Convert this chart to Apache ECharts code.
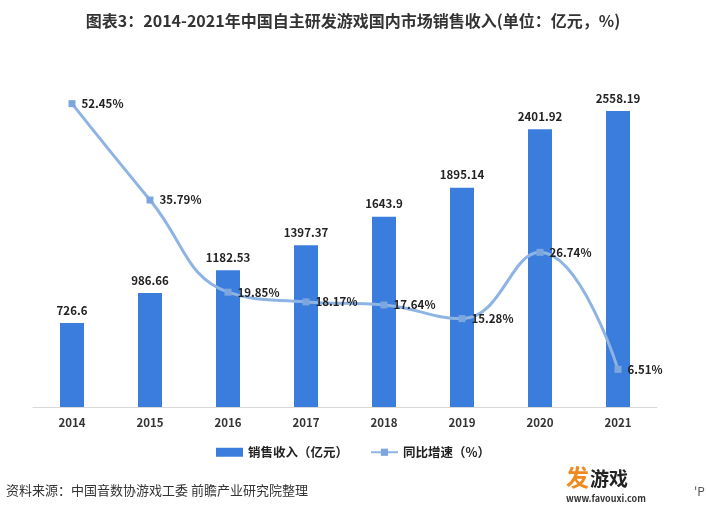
<!DOCTYPE html>
<html><head><meta charset="utf-8">
<script src="https://cdn.jsdelivr.net/npm/echarts@6/dist/echarts.min.js"></script>
<style>html,body{margin:0;padding:0;background:#fff}#c{width:706px;height:513px}</style>
</head><body><div id="c"></div>
<script>
var years = ['2014','2015','2016','2017','2018','2019','2020','2021'];
var revenue = [726.6, 986.66, 1182.53, 1397.37, 1643.9, 1895.14, 2401.92, 2558.19];
var growth = [52.45, 35.79, 19.85, 18.17, 17.64, 15.28, 26.74, 6.51];
var revenueLabels = ['726.6','986.66','1182.53','1397.37','1643.9','1895.14','2401.92','2558.19'];
var growthLabels = ['52.45%','35.79%','19.85%','18.17%','17.64%','15.28%','26.74%','6.51%'];

var chart = echarts.init(document.getElementById('c'));
var font = '"Noto Sans CJK SC", "Liberation Sans", sans-serif';
chart.setOption({
  backgroundColor: '#fff',
  animation: false,
  title: {
    text: '图表3：2014-2021年中国自主研发游戏国内市场销售收入(单位：亿元，%)',
    left: 'center', top: 8,
    textStyle: {fontSize: 16, fontWeight: 'bold', color: '#333', fontFamily: font}
  },
  legend: {
    top: 441, left: 'center', itemGap: 22, itemWidth: 27, itemHeight: 9,
    textStyle: {fontSize: 12.5, fontWeight: 'bold', color: '#222', fontFamily: font},
    data: [
      {name: '销售收入（亿元）', icon: 'rect'},
      {name: '同比增速（%）'}
    ]
  },
  grid: {left: 33, right: 49, top: 60, bottom: 106},
  xAxis: {
    type: 'category', data: years,
    axisLine: {lineStyle: {color: '#d9d9d9'}},
    axisTick: {show: false},
    axisLabel: {fontSize: 11.5, fontWeight: 'bold', color: '#333', margin: 10, fontFamily: font}
  },
  yAxis: [
    {type: 'value', min: 0, max: 3000, show: false, splitLine: {show: false}},
    {type: 'value', min: 0, max: 60, show: false, splitLine: {show: false}}
  ],
  series: [
    {
      name: '销售收入（亿元）', type: 'bar', data: revenue, barWidth: 24,
      itemStyle: {color: '#3b7ddd'},
      label: {show: true, position: 'top', distance: 7, fontSize: 11.5, fontWeight: 'bold', color: '#222', fontFamily: font,
        formatter: function(p){return revenueLabels[p.dataIndex];}}
    },
    {
      name: '同比增速（%）', type: 'line', yAxisIndex: 1, data: growth, smooth: 0.45,
      symbol: 'rect', symbolSize: 7,
      lineStyle: {color: '#8eb4e3', width: 3},
      itemStyle: {color: '#7ea6de'},
      label: {show: true, position: 'right', distance: 6, fontSize: 11.5, fontWeight: 'bold', color: '#222', fontFamily: font,
        formatter: function(p){return growthLabels[p.dataIndex];}}
    }
  ],
  graphic: [
    {type: 'text', left: 6, top: 484, style: {text: '资料来源：中国音数协游戏工委 前瞻产业研究院整理', fontSize: 13, fill: '#333', fontFamily: font}},
    {type: 'text', left: 566, top: 466, style: {text: '发', fontSize: 23, fontWeight: 'bold', fill: '#f0891e', fontFamily: font}},
    {type: 'text', left: 590, top: 469, style: {text: '游戏', fontSize: 19, fontWeight: 'bold', fill: '#222', fontFamily: font}},
    {type: 'text', left: 566, top: 494, style: {text: 'www.favouxi.com', fontSize: 9, fontWeight: 'bold', fill: '#333', fontFamily: font}},
    {type: 'text', left: 694, top: 485, style: {text: "'P", fontSize: 12, fill: '#555', fontFamily: font}}
  ]
});
</script></body></html>
